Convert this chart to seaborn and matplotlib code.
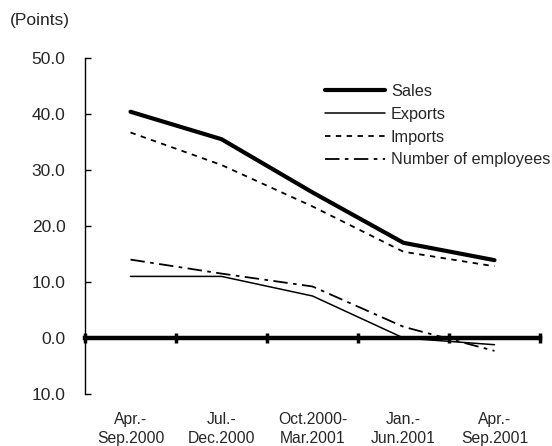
import matplotlib
matplotlib.use("Agg")
import matplotlib.pyplot as plt
import seaborn as sns
import pandas as pd
import numpy as np

periods = ["Apr.-\nSep.2000", "Jul.-\nDec.2000", "Oct.2000-\nMar.2001", "Jan.-\nJun.2001", "Apr.-\nSep.2001"]
sales = [40.4, 35.5, 26.0, 17.0, 13.9]
exports = [11.0, 11.0, 7.5, 0.0, -1.2]
imports = [36.7, 30.9, 23.5, 15.4, 12.8]
employees = [14.0, 11.5, 9.2, 2.0, -2.3]
yticks = [-10, 0, 10, 20, 30, 40, 50]
ytick_labels = ["10.0", "0.0", "10.0", "20.0", "30.0", "40.0", "50.0"]

sns.set_theme(style="white")
plt.rcParams['font.family'] = ['Liberation Sans', 'DejaVu Sans']

fig = plt.figure(figsize=(5.52, 4.46), dpi=100)
ax = fig.add_axes([85/552, 1-394/446, (540-85)/552, (394-58)/446])

x = np.arange(len(periods))
df = pd.DataFrame({"x": x, "Sales": sales, "Exports": exports,
                   "Imports": imports, "Number of employees": employees})

styles = {
    "Sales": dict(lw=3.0, ls="-"),
    "Exports": dict(lw=1.1, ls="-"),
    "Imports": dict(lw=1.3, ls=(0, (3, 3))),
    "Number of employees": dict(lw=1.3, ls=(0, (8, 3, 2, 3))),
}
for name, st in styles.items():
    sns.lineplot(data=df, x="x", y=name, ax=ax, color="black", linewidth=st["lw"],
                 linestyle=st["ls"], label=name, sort=False)

ax.set_xlim(-0.5, len(periods) - 0.5)
ax.set_ylim(-10, 50)
ax.set_yticks(yticks)
ax.set_yticklabels(ytick_labels, fontsize=12.5)
ax.tick_params(axis="y", direction="in", length=4, width=1, color="black", pad=14, left=True)

for s in ["top", "right"]:
    ax.spines[s].set_visible(False)
ax.spines["left"].set_color("black")
ax.spines["left"].set_linewidth(1)
ax.spines["bottom"].set_position(("data", 0))
ax.spines["bottom"].set_linewidth(3.2)
ax.spines["bottom"].set_color("black")
ax.set_xticks(np.arange(-0.5, len(periods)))
ax.set_xticklabels([])
ax.tick_params(axis="x", direction="inout", length=7, width=2.5, color="black", bottom=True)

sec = ax.secondary_xaxis(location=0)
sec.set_xticks(x)
sec.set_xticklabels(periods, fontsize=11.3, linespacing=1.3)
sec.tick_params(axis="x", length=0, pad=13)
sec.spines["bottom"].set_visible(False)

ax.set_xlabel("")
ax.set_ylabel("")
fig.text(10/552, 1-21/446, "(Points)", fontsize=12.5, va="center", ha="left")

leg = ax.legend(loc="upper left", bbox_to_anchor=(325/552, 1-84/446), bbox_transform=fig.transFigure,
                frameon=False, fontsize=11.7, handlelength=3.7, handletextpad=0.35,
                labelspacing=0.48, borderpad=0, borderaxespad=0)

fig.savefig("out.png", dpi=100)
